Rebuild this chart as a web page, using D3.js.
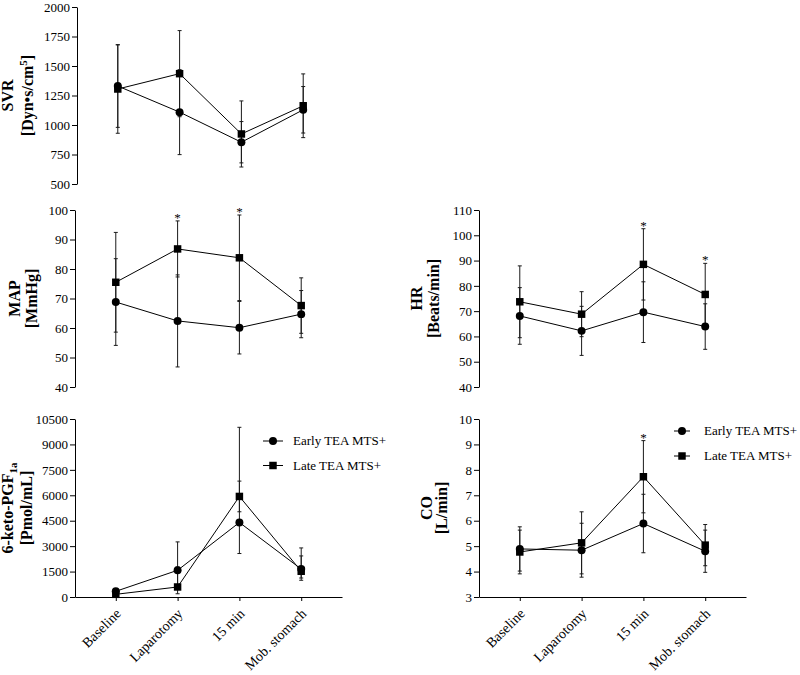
<!DOCTYPE html>
<html>
<head>
<meta charset="utf-8">
<title>Haemodynamics, Early vs Late TEA MTS+</title>
<script src="https://cdnjs.cloudflare.com/ajax/libs/d3/7.8.5/d3.min.js"></script>
<style>
	body { margin: 0; background: #fff; }
	svg, svg text { font-family: "Liberation Serif", "Times New Roman", serif; }
	.axis path, .axis line { stroke: #000; stroke-width: 1px; }
	.axis text { font-family: "Liberation Serif", "Times New Roman", serif; font-size: 13px; fill: #000; }
	.x.axis text { font-size: 14px; }
	.series { fill: none; stroke: #000; stroke-width: 1px; }
	.err { stroke: #1a1a1a; stroke-width: 1px; }
	.ylabel { font-weight: bold; font-size: 16px; fill: #000; }
	.legend text { font-size: 13px; fill: #000; }
	.star { font-size: 13px; fill: #000; }
</style>
</head>
<body>
<script>
var categories = ["Baseline", "Laparotomy", "15 min", "Mob. stomach"];

// SVR
var svrEarly = [1330, 1109, 854, 1129];
var svrEarlySd = [350, 360, 175, 197];
var svrLate = [1305, 1435, 924, 1163];
var svrLateSd = [375, 365, 280, 270];
var svrTicks = [500, 750, 1000, 1250, 1500, 1750, 2000];

// MAP
var mapEarly = [68.8, 62.4, 60.1, 64.7];
var mapEarlySd = [14.7, 15.6, 8.9, 8.0];
var mapLate = [75.5, 86.8, 83.8, 67.6];
var mapLateSd = [16.9, 9.5, 14.5, 9.4];
var mapTicks = [40, 50, 60, 70, 80, 90, 100];
var mapStars = [1, 2];

// HR
var hrEarly = [68.1, 62.2, 69.6, 63.9];
var hrEarlySd = [11.2, 9.7, 12.0, 9.0];
var hrLate = [73.7, 68.8, 88.5, 76.6];
var hrLateSd = [14.2, 8.9, 14.1, 12.3];
var hrTicks = [40, 50, 60, 70, 80, 90, 100, 110];
var hrStars = [2, 3];

// 6-keto-PGF1a  (error as [below, above])
var ketoEarly = [335, 1576, 4396, 1650];
var ketoEarlySd = [[100, 100], [1000, 1674], [1831, 5614], [663, 1245]];
var ketoLate = [158, 591, 5932, 1520];
var ketoLateSd = [[60, 60], [400, 1182], [905, 905], [400, 903]];
var ketoTicks = [0, 1500, 3000, 4500, 6000, 7500, 9000, 10500];

// CO
var coEarly = [4.89, 4.84, 5.89, 4.80];
var coEarlySd = [0.87, 1.06, 1.15, 0.83];
var coLate = [4.77, 5.13, 7.73, 5.04];
var coLateSd = [0.86, 1.22, 1.42, 0.81];
var coTicks = [3, 4, 5, 6, 7, 8, 9, 10];
var coStars = [2];

var seriesNames = ["Early TEA MTS+", "Late TEA MTS+"];

var panels = [
	{ early: svrEarly, earlySd: svrEarlySd, late: svrLate, lateSd: svrLateSd, ticks: svrTicks, stars: [],
	  x0: 77, x1: 344, y0: 7, y1: 184, xAxis: false,
	  lab1: { x: 13, parts: [["SVR"]] },
	  lab2: { x: 33, parts: [["[Dyn\u2022s/cm"], ["5", "sup"], ["]", "back"]] } },
	{ early: mapEarly, earlySd: mapEarlySd, late: mapLate, lateSd: mapLateSd, ticks: mapTicks, stars: mapStars,
	  x0: 75, x1: 342, y0: 210, y1: 387, xAxis: false,
	  lab1: { x: 20, parts: [["MAP"]] },
	  lab2: { x: 37, parts: [["[MmHg]"]] } },
	{ early: hrEarly, earlySd: hrEarlySd, late: hrLate, lateSd: hrLateSd, ticks: hrTicks, stars: hrStars,
	  x0: 479, x1: 746, y0: 210, y1: 387, xAxis: false,
	  lab1: { x: 422, parts: [["HR"]] },
	  lab2: { x: 439, parts: [["[Beats/min]"]] } },
	{ early: ketoEarly, earlySd: ketoEarlySd, late: ketoLate, lateSd: ketoLateSd, ticks: ketoTicks, stars: [],
	  x0: 75, x1: 342, y0: 419, y1: 597, xAxis: true,
	  lab1: { x: 13, parts: [["6-keto-PGF"], ["1a", "sub"]] },
	  lab2: { x: 32, parts: [["[Pmol/mL]"]] },
	  legend: { x: 273, y: 441, gap: 24.5, half: 10, text: 20 } },
	{ early: coEarly, earlySd: coEarlySd, late: coLate, lateSd: coLateSd, ticks: coTicks, stars: coStars,
	  x0: 479, x1: 746, y0: 419, y1: 597, xAxis: true,
	  lab1: { x: 432, parts: [["CO"]] },
	  lab2: { x: 447, parts: [["[L/min]"]] },
	  legend: { x: 682, y: 431, gap: 25, half: 8, text: 22 } }
];

var circle = d3.symbol().type(d3.symbolCircle).size(50);
var square = d3.symbol().type(d3.symbolSquare).size(56);

function errRange(m, e) {
	if (Array.isArray(e)) return [m - e[0], m + e[1]];
	return [m - e, m + e];
}

function drawLabel(g, lab, yc) {
	var t = g.append("text")
		.attr("class", "ylabel")
		.attr("text-anchor", "middle")
		.attr("transform", "translate(" + lab.x + "," + yc + ") rotate(-90)");
	lab.parts.forEach(function(p) {
		var s = t.append("tspan").text(p[0]);
		if (p[1] === "sup") s.attr("dy", -6).style("font-size", "11px");
		if (p[1] === "back") s.attr("dy", 6);
		if (p[1] === "sub") s.attr("dy", 4).style("font-size", "11px");
	});
}

function draw() {
	"use strict";

	var svg = d3.select("body")
		.append("svg")
			.attr("width", 800)
			.attr("height", 675);

	panels.forEach(function(p) {
		var g = svg.append("g");

		var x = d3.scalePoint()
			.domain(categories)
			.range([p.x0, p.x1])
			.padding(0.66);

		var y = d3.scaleLinear()
			.domain([p.ticks[0], p.ticks[p.ticks.length - 1]])
			.range([p.y1, p.y0]);

		g.append("g")
			.attr("class", "y axis")
			.attr("transform", "translate(" + p.x0 + ",0)")
			.call(d3.axisLeft(y).tickValues(p.ticks).tickSize(5).tickSizeOuter(0).tickPadding(2).tickFormat(d3.format("d")));

		if (p.xAxis) {
			var xa = g.append("g")
				.attr("class", "x axis")
				.attr("transform", "translate(0," + p.y1 + ")")
				.call(d3.axisBottom(x).tickSize(4).tickSizeOuter(0));
			xa.selectAll("text")
				.attr("x", 0)
				.attr("y", 0)
				.attr("dy", "0.35em")
				.attr("transform", "translate(2,14) rotate(-45)")
				.style("text-anchor", "end");
		}

		var series = [
			{ vals: p.early, sd: p.earlySd, sym: circle },
			{ vals: p.late, sd: p.lateSd, sym: square }
		];

		// error bars
		series.forEach(function(s) {
			s.vals.forEach(function(v, i) {
				var r = errRange(v, s.sd[i]);
				var cx = x(categories[i]);
				g.append("line").attr("class", "err")
					.attr("x1", cx).attr("x2", cx)
					.attr("y1", y(r[0])).attr("y2", y(r[1]));
				r.forEach(function(e) {
					g.append("line").attr("class", "err")
						.attr("x1", cx - 2).attr("x2", cx + 2)
						.attr("y1", y(e)).attr("y2", y(e));
				});
			});
		});

		var line = d3.line()
			.x(function(d, i) { return x(categories[i]); })
			.y(function(d) { return y(d); });

		series.forEach(function(s) {
			g.append("path").attr("class", "series").attr("d", line(s.vals));
		});

		series.forEach(function(s) {
			g.selectAll(null)
				.data(s.vals)
				.enter()
				.append("path")
					.attr("d", s.sym)
					.attr("fill", "#000")
					.attr("transform", function(d, i) {
						return "translate(" + x(categories[i]) + "," + y(d) + ")";
					});
		});

		// significance stars
		p.stars.forEach(function(i) {
			var top = Math.max(errRange(p.early[i], p.earlySd[i])[1], errRange(p.late[i], p.lateSd[i])[1]);
			g.append("text")
				.attr("class", "star")
				.attr("text-anchor", "middle")
				.attr("x", x(categories[i]))
				.attr("y", y(top) + 1)
				.text("*");
		});

		var yc = (p.y0 + p.y1) / 2;
		drawLabel(g, p.lab1, yc);
		drawLabel(g, p.lab2, yc);

		if (p.legend) {
			var L = p.legend;
			var lg = g.append("g").attr("class", "legend");
			[circle, square].forEach(function(sym, k) {
				var ly = L.y + k * L.gap;
				lg.append("line")
					.attr("x1", L.x - L.half).attr("x2", L.x + L.half)
					.attr("y1", ly).attr("y2", ly)
					.attr("stroke", "#000");
				lg.append("path")
					.attr("d", sym)
					.attr("fill", "#000")
					.attr("transform", "translate(" + L.x + "," + ly + ")");
				lg.append("text")
					.attr("x", L.x + L.text)
					.attr("y", ly)
					.attr("dy", "0.33em")
					.text(seriesNames[k]);
			});
		}
	});
}

draw();
</script>
</body>
</html>
